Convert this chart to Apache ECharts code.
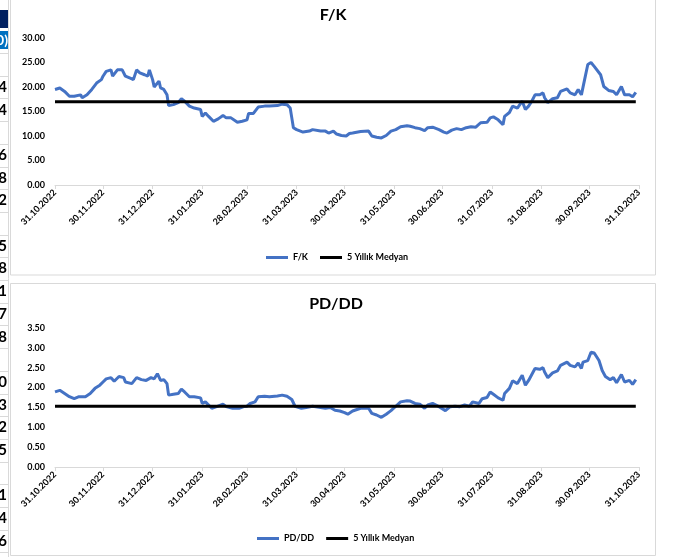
<!DOCTYPE html>
<html>
<head>
    <meta charset="utf-8">
    <title>F/K - PD/DD</title>
    <script src="https://cdn.jsdelivr.net/npm/echarts@6.0.0/dist/echarts.min.js"></script>
    <style>
        html, body { margin: 0; padding: 0; background: #fff; }
        #main { width: 683px; height: 557px; }
    </style>
</head>
<body>
    <div id="main"></div>
    <script type="text/javascript">
        // month-end labels on the date axis
        var tickLabels = ['31.10.2022', '30.11.2022', '31.12.2022', '31.01.2023', '28.02.2023', '31.03.2023',
            '30.04.2023', '31.05.2023', '30.06.2023', '31.07.2023', '31.08.2023', '30.09.2023', '31.10.2023'];

        // F/K
        var fkDates = ['31.10.2022', '03.11.2022', '04.11.2022', '06.11.2022', '09.11.2022', '12.11.2022', '16.11.2022', '17.11.2022',
            '20.11.2022', '23.11.2022', '26.11.2022', '29.11.2022', '30.11.2022', '02.12.2022', '05.12.2022', '06.12.2022',
            '09.12.2022', '12.12.2022', '14.12.2022', '17.12.2022', '19.12.2022', '21.12.2022', '23.12.2022', '26.12.2022',
            '28.12.2022', '29.12.2022', '31.12.2022', '01.01.2023', '04.01.2023', '05.01.2023', '07.01.2023', '09.01.2023',
            '10.01.2023', '13.01.2023', '16.01.2023', '18.01.2023', '20.01.2023', '23.01.2023', '26.01.2023', '30.01.2023',
            '31.01.2023', '02.02.2023', '04.02.2023', '07.02.2023', '10.02.2023', '13.02.2023', '15.02.2023', '18.02.2023',
            '22.02.2023', '25.02.2023', '28.02.2023', '01.03.2023', '04.03.2023', '07.03.2023', '11.03.2023', '14.03.2023',
            '15.03.2023', '19.03.2023', '22.03.2023', '25.03.2023', '27.03.2023', '28.03.2023', '29.03.2023', '31.03.2023',
            '04.04.2023', '08.04.2023', '10.04.2023', '15.04.2023', '18.04.2023', '20.04.2023', '23.04.2023', '25.04.2023',
            '28.04.2023', '01.05.2023', '03.05.2023', '05.05.2023', '10.05.2023', '15.05.2023', '17.05.2023', '20.05.2023',
            '23.05.2023', '26.05.2023', '29.05.2023', '01.06.2023', '04.06.2023', '08.06.2023', '10.06.2023', '13.06.2023',
            '16.06.2023', '19.06.2023', '21.06.2023', '24.06.2023', '28.06.2023', '01.07.2023', '03.07.2023', '06.07.2023',
            '09.07.2023', '12.07.2023', '15.07.2023', '18.07.2023', '21.07.2023', '24.07.2023', '28.07.2023', '30.07.2023',
            '01.08.2023', '04.08.2023', '07.08.2023', '08.08.2023', '11.08.2023', '13.08.2023', '16.08.2023', '19.08.2023',
            '21.08.2023', '23.08.2023', '25.08.2023', '27.08.2023', '30.08.2023', '01.09.2023', '02.09.2023', '04.09.2023',
            '07.09.2023', '10.09.2023', '12.09.2023', '16.09.2023', '18.09.2023', '21.09.2023', '23.09.2023', '25.09.2023',
            '27.09.2023', '29.09.2023', '01.10.2023', '03.10.2023', '07.10.2023', '09.10.2023', '12.10.2023', '15.10.2023',
            '17.10.2023', '20.10.2023', '22.10.2023', '25.10.2023', '27.10.2023', '29.10.2023'];
        var fkValues = [19.5, 19.8, 20.0, 19.1, 18.1, 18.1, 18.4, 17.8,
            18.4, 19.5, 20.8, 21.5, 22.2, 23.2, 23.5, 22.2,
            23.5, 23.5, 22.2, 21.8, 21.5, 23.5, 22.9, 22.5,
            22.2, 23.5, 21.5, 20.0, 21.2, 19.8, 19.5, 18.4,
            16.2, 16.4, 16.8, 17.6, 17.1, 16.1, 15.7, 15.4,
            14.0, 14.7, 14.0, 13.0, 13.5, 14.2, 13.7, 13.7,
            12.8, 13.0, 13.3, 14.6, 14.6, 15.9, 16.1, 16.1,
            16.5, 16.2, 16.5, 16.4, 15.7, 13.7, 11.7, 11.3,
            10.8, 11.0, 11.3, 11.0, 11.0, 10.6, 11.0, 10.4,
            10.1, 10.0, 10.5, 10.6, 10.9, 11.0, 10.0, 9.75,
            9.6, 10.1, 11.0, 11.3, 11.9, 12.1, 12.0, 11.7,
            11.5, 11.1, 11.7, 11.8, 11.3, 10.8, 10.6, 11.2,
            11.5, 11.3, 11.7, 11.9, 11.8, 12.7, 12.8, 13.7,
            13.9, 13.3, 12.3, 14.0, 14.8, 16.1, 15.7, 17.1,
            15.4, 16.1, 17.1, 18.4, 18.4, 18.8, 17.8, 16.8,
            17.6, 17.8, 19.1, 19.6, 18.8, 18.4, 19.5, 18.4,
            21.5, 24.6, 25.0, 24.2, 22.5, 20.1, 19.3, 19.1,
            18.4, 20.1, 18.4, 18.4, 18.0, 18.9];
        var fkMedian = 17.0;

        // PD/DD
        var pdDates = ['31.10.2022', '03.11.2022', '04.11.2022', '06.11.2022', '09.11.2022', '12.11.2022', '15.11.2022', '16.11.2022',
            '19.11.2022', '22.11.2022', '25.11.2022', '28.11.2022', '30.11.2022', '02.12.2022', '05.12.2022', '07.12.2022',
            '10.12.2022', '13.12.2022', '14.12.2022', '18.12.2022', '21.12.2022', '24.12.2022', '27.12.2022', '28.12.2022',
            '30.12.2022', '01.01.2023', '03.01.2023', '05.01.2023', '07.01.2023', '09.01.2023', '10.01.2023', '13.01.2023',
            '16.01.2023', '18.01.2023', '20.01.2023', '23.01.2023', '26.01.2023', '30.01.2023', '31.01.2023', '02.02.2023',
            '04.02.2023', '06.02.2023', '09.02.2023', '13.02.2023', '15.02.2023', '19.02.2023', '23.02.2023', '26.02.2023',
            '28.02.2023', '02.03.2023', '05.03.2023', '07.03.2023', '11.03.2023', '14.03.2023', '15.03.2023', '19.03.2023',
            '22.03.2023', '25.03.2023', '28.03.2023', '30.03.2023', '03.04.2023', '06.04.2023', '10.04.2023', '15.04.2023',
            '18.04.2023', '21.04.2023', '24.04.2023', '27.04.2023', '30.04.2023', '02.05.2023', '05.05.2023', '10.05.2023',
            '15.05.2023', '17.05.2023', '20.05.2023', '23.05.2023', '26.05.2023', '29.05.2023', '01.06.2023', '04.06.2023',
            '08.06.2023', '10.06.2023', '13.06.2023', '16.06.2023', '19.06.2023', '21.06.2023', '24.06.2023', '28.06.2023',
            '02.07.2023', '05.07.2023', '08.07.2023', '11.07.2023', '14.07.2023', '17.07.2023', '19.07.2023', '23.07.2023',
            '25.07.2023', '28.07.2023', '30.07.2023', '01.08.2023', '04.08.2023', '07.08.2023', '08.08.2023', '11.08.2023',
            '13.08.2023', '16.08.2023', '19.08.2023', '21.08.2023', '23.08.2023', '25.08.2023', '27.08.2023', '30.08.2023',
            '01.09.2023', '02.09.2023', '04.09.2023', '07.09.2023', '10.09.2023', '12.09.2023', '16.09.2023', '18.09.2023',
            '21.09.2023', '23.09.2023', '25.09.2023', '26.09.2023', '29.09.2023', '01.10.2023', '03.10.2023', '06.10.2023',
            '08.10.2023', '10.10.2023', '13.10.2023', '15.10.2023', '17.10.2023', '20.10.2023', '22.10.2023', '25.10.2023',
            '27.10.2023', '29.10.2023'];
        var pdValues = [1.89, 1.93, 1.95, 1.85, 1.77, 1.72, 1.77, 1.72,
            1.77, 1.85, 1.98, 2.06, 2.14, 2.22, 2.25, 2.16,
            2.28, 2.25, 2.14, 2.10, 2.25, 2.20, 2.18, 2.14,
            2.25, 2.22, 2.35, 2.18, 2.20, 2.10, 1.81, 1.83,
            1.85, 1.96, 1.89, 1.77, 1.77, 1.74, 1.60, 1.64,
            1.56, 1.48, 1.52, 1.58, 1.52, 1.48, 1.48, 1.52,
            1.53, 1.60, 1.64, 1.77, 1.78, 1.77, 1.81, 1.79,
            1.81, 1.78, 1.70, 1.53, 1.48, 1.50, 1.53, 1.50,
            1.48, 1.50, 1.43, 1.41, 1.37, 1.33, 1.41, 1.48,
            1.48, 1.35, 1.31, 1.25, 1.33, 1.42, 1.53, 1.64,
            1.67, 1.66, 1.60, 1.58, 1.48, 1.56, 1.60, 1.52,
            1.42, 1.52, 1.53, 1.52, 1.56, 1.53, 1.64, 1.60,
            1.72, 1.75, 1.89, 1.83, 1.74, 1.68, 1.85, 1.98,
            2.17, 2.10, 2.31, 2.06, 2.18, 2.33, 2.48, 2.46,
            2.50, 2.39, 2.25, 2.37, 2.42, 2.56, 2.64, 2.56,
            2.52, 2.62, 2.48, 2.64, 2.68, 2.89, 2.87, 2.68,
            2.43, 2.28, 2.20, 2.25, 2.12, 2.33, 2.14, 2.18,
            2.08, 2.20];
        var pdMedian = 1.53;

        // clipped spreadsheet column on the left edge
        var sideDigits = ['4', '4', '', '6', '8', '2', '', '5', '8', '1', '7', '8', '', '0', '3', '2', '5', '', '1', '4', '6'];

        var FONT = 'Lato, "Open Sans", sans-serif';
        var BLUE = '#4472C4';
        var INK = '#000';

        function pad(n) { return n < 10 ? '0' + n : '' + n; }
        function fmt(d) { return pad(d.getDate()) + '.' + pad(d.getMonth() + 1) + '.' + d.getFullYear(); }

        // one category per calendar day, like Excel's date axis
        var days = [];
        var end = new Date(2023, 9, 31, 12);
        for (var t = new Date(2022, 9, 31, 12); t <= end; t.setDate(t.getDate() + 1)) {
            days.push(fmt(t));
        }

        function toSeries(dates, values) {
            var m = {};
            dates.forEach(function (d, i) { m[d] = values[i]; });
            return days.map(function (d) { return d in m ? m[d] : null; });
        }
        function flatSeries(dates, v) {
            var a = days.indexOf(dates[0]), b = days.indexOf(dates[dates.length - 1]);
            return days.map(function (d, i) { return i >= a && i <= b ? v : null; });
        }
        function isTick(i, v) { return tickLabels.indexOf(v) >= 0; }

        function xAxisFor(gi) {
            return {
                type: 'category', gridIndex: gi, data: days, boundaryGap: false,
                axisLine: { lineStyle: { color: '#d9d9d9', width: 1 } },
                axisTick: { show: true, interval: isTick, length: 4, lineStyle: { color: '#d9d9d9' } },
                axisLabel: { interval: isTick, rotate: 45, margin: 6, fontSize: 9, fontWeight: 'bold', color: INK, fontFamily: FONT },
                splitLine: { show: false }
            };
        }
        function yAxisFor(gi, max, step) {
            return {
                type: 'value', gridIndex: gi, min: 0, max: max, interval: step,
                axisLine: { show: false }, axisTick: { show: false }, splitLine: { show: false },
                axisLabel: {
                    margin: 10, fontSize: 9, fontWeight: 'bold', color: INK, fontFamily: FONT,
                    formatter: function (v) { return v.toFixed(2); }
                }
            };
        }
        function lineSeries(name, gi, data, color) {
            return {
                name: name, type: 'line', xAxisIndex: gi, yAxisIndex: gi, data: data,
                symbol: 'none', connectNulls: true, animation: false,
                lineStyle: { color: color, width: 3 },
                itemStyle: { color: color }
            };
        }
        function legendFor(names, left, top) {
            return {
                data: names, left: left, top: top, icon: 'rect', itemWidth: 22, itemHeight: 3, itemGap: 12, padding: 0,
                textStyle: { fontSize: 9, fontWeight: 'bold', color: INK, fontFamily: FONT }
            };
        }

        // side strip graphics
        var side = [
            { type: 'rect', shape: { x: 0, y: 10, width: 8, height: 18 }, style: { fill: '#002060' } },
            { type: 'rect', shape: { x: 0, y: 31, width: 8, height: 18 }, style: { fill: '#0070C0' } },
            { type: 'text', x: 8, y: 40, style: { text: '0)', fill: '#fff', font: 'bold 14px ' + FONT, textAlign: 'right', textVerticalAlign: 'middle' } },
            { type: 'line', shape: { x1: 8.5, y1: 0, x2: 8.5, y2: 557 }, style: { stroke: '#d9d9d9', lineWidth: 1 } }
        ];
        for (var n = 0; n < 23; n++) {
            var yy = Math.round(53 + 22.7 * n) + 0.5;
            side.push({ type: 'line', shape: { x1: 0, y1: yy, x2: 8, y2: yy }, style: { stroke: '#d9d9d9', lineWidth: 1 } });
        }
        sideDigits.forEach(function (s, k) {
            if (!s) return;
            side.push({ type: 'text', x: 7, y: 87 + 22.7 * k, style: { text: s, fill: '#000', font: 'bold 15px ' + FONT, textAlign: 'right', textVerticalAlign: 'middle' } });
        });

        var chartDom = document.getElementById('main');
        var myChart = echarts.init(chartDom, null, { renderer: 'canvas' });
        var option = {
            backgroundColor: '#fff',
            animation: false,
            grid: [
                { left: 55, right: 44, top: 38, height: 147 },
                { left: 55, right: 44, top: 328, height: 139 }
            ],
            xAxis: [xAxisFor(0), xAxisFor(1)],
            yAxis: [yAxisFor(0, 30, 5), yAxisFor(1, 3.5, 0.5)],
            legend: [
                legendFor(['F/K', '5 Yıllık Medyan'], 266, 253),
                legendFor(['PD/DD', '5 Yıllık Medyan'], 257, 534)
            ],
            graphic: side.concat([
                { type: 'rect', z: -1, shape: { x: 10.5, y: -1, width: 645, height: 276 }, style: { fill: null, stroke: '#d9d9d9', lineWidth: 1 } },
                { type: 'rect', z: -1, shape: { x: 10.5, y: 283.5, width: 645, height: 272 }, style: { fill: null, stroke: '#d9d9d9', lineWidth: 1 } },
                { type: 'text', x: 333, y: 15, style: { text: 'F/K', fill: '#000', font: 'bold 16px ' + FONT, textAlign: 'center', textVerticalAlign: 'middle' } },
                { type: 'text', x: 336, y: 304, style: { text: 'PD/DD', fill: '#000', font: 'bold 16px ' + FONT, textAlign: 'center', textVerticalAlign: 'middle' } }
            ]),
            series: [
                lineSeries('F/K', 0, toSeries(fkDates, fkValues), BLUE),
                lineSeries('5 Yıllık Medyan', 0, flatSeries(fkDates, fkMedian), '#000'),
                lineSeries('PD/DD', 1, toSeries(pdDates, pdValues), BLUE),
                lineSeries('5 Yıllık Medyan', 1, flatSeries(pdDates, pdMedian), '#000')
            ]
        };

        option && myChart.setOption(option);
    </script>
</body>
</html>
